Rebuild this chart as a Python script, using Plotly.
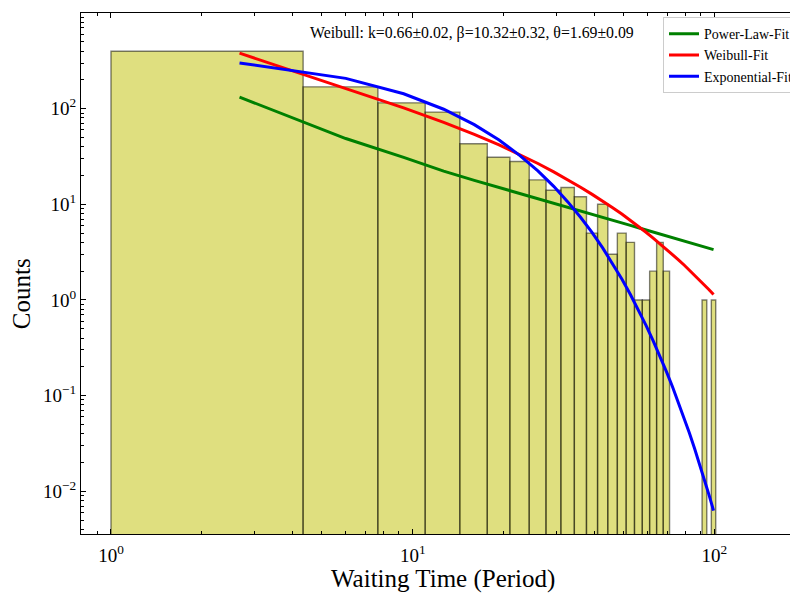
import plotly.graph_objects as go

# ---------------- data ----------------
bin_edges = [1.0, 4.333, 7.667, 11.0, 14.333, 17.667, 21.0, 24.333, 27.667, 31.0,
             34.333, 37.667, 41.0, 44.333, 47.667, 51.0, 54.333, 57.667, 61.0, 64.333,
             67.667, 71.0, 74.333, 77.667, 81.0, 84.333, 87.667, 91.0, 94.333, 97.667, 101.0]
counts = [398, 169, 115, 92, 43, 31, 28, 18, 14, 15,
          12, 5, 10, 3, 5, 4, 1, 1, 2, 4,
          2, 0, 0, 0, 0, 0, 0, 1, 0, 1]

bin_centers = [2.667, 6.0, 9.333, 12.667, 16.0, 19.333, 22.667, 26.0, 29.333, 32.667,
               36.0, 39.333, 42.667, 46.0, 49.333, 52.667, 56.0, 59.333, 62.667, 66.0,
               69.333, 72.667, 76.0, 79.333, 82.667, 86.0, 89.333, 92.667, 96.0, 99.333]

power_law_fit = [132.0, 48.7, 30.9, 22.2, 17.8, 15.0, 13.0, 11.6, 10.4, 9.44,
                 8.63, 7.94, 7.35, 6.84, 6.41, 6.02, 5.68, 5.39, 5.12, 4.89,
                 4.67, 4.47, 4.29, 4.13, 3.97, 3.83, 3.70, 3.58, 3.46, 3.36]
weibull_fit = [380.0, 160.0, 101.7, 72.0, 53.9, 41.8, 33.1, 26.7, 21.8, 18.1,
               15.1, 12.7, 10.8, 9.20, 7.90, 6.80, 5.88, 5.10, 4.44, 3.88,
               3.40, 2.99, 2.63, 2.32, 2.05, 1.82, 1.61, 1.44, 1.28, 1.14]
exponential_fit = [300.6, 207.3, 143.0, 98.6, 68.0, 46.9, 32.3, 22.3, 15.4, 10.6,
                   7.32, 5.05, 3.48, 2.40, 1.655, 1.14, 0.787, 0.543, 0.374, 0.258,
                   0.178, 0.123, 0.0847, 0.0584, 0.0403, 0.0278, 0.0192, 0.0132, 0.00911, 0.00628]

x_tick_vals = [1, 10, 100]
x_tick_text = ["10<sup>0</sup>", "10<sup>1</sup>", "10<sup>2</sup>"]
y_tick_vals = [0.01, 0.1, 1, 10, 100, 1000]
y_tick_text = ["10<sup>\u22122</sup>", "10<sup>\u22121</sup>", "10<sup>0</sup>",
               "10<sup>1</sup>", "10<sup>2</sup>", "10<sup>3</sup>"]

x_title = "Waiting Time (Period)"
y_title = "Counts"
annotation_text = "Weibull: k=0.66\u00b10.02, \u03b2=10.32\u00b10.32, \u03b8=1.69\u00b10.09"

# ---------------- figure ----------------
FONT = "Liberation Serif, Times New Roman, serif"
fig = go.Figure()

bar_floor = 1e-4
for i, c in enumerate(counts):
    if c <= 0:
        continue
    x0, x1 = bin_edges[i], bin_edges[i + 1]
    fig.add_trace(go.Scatter(
        x=[x0, x0, x1, x1, x0], y=[bar_floor, c, c, bar_floor, bar_floor],
        mode="lines", fill="toself",
        fillcolor="rgba(191,191,0,0.5)",
        line=dict(color="rgba(0,0,0,0.5)", width=1.4),
        showlegend=False, hoverinfo="skip"))

fig.add_trace(go.Scatter(x=bin_centers, y=power_law_fit, mode="lines",
                         name="Power-Law-Fit", line=dict(color="#008000", width=3)))
fig.add_trace(go.Scatter(x=bin_centers, y=weibull_fit, mode="lines",
                         name="Weibull-Fit", line=dict(color="#ff0000", width=3)))
fig.add_trace(go.Scatter(x=bin_centers, y=exponential_fit, mode="lines",
                         name="Exponential-Fit", line=dict(color="#0000ff", width=3)))

mant = [2, 3, 4, 5, 6, 7, 8, 9]
x_minor = [0.9] + [m * d for d in (1, 10) for m in mant]
y_minor = [m * d for d in (0.001, 0.01, 0.1, 1, 10, 100) for m in mant]

fig.add_annotation(text=annotation_text, x=0.5455, y=0.962, xref="paper", yref="paper",
                   xanchor="center", yanchor="middle", showarrow=False,
                   font=dict(family=FONT, size=15.8, color="black"))
fig.add_annotation(text=x_title, x=0.505, y=-0.087, xref="paper", yref="paper",
                   xanchor="center", yanchor="middle", showarrow=False,
                   font=dict(family=FONT, size=25, color="black"))
fig.add_annotation(text=y_title, x=-0.0832, y=0.461, xref="paper", yref="paper",
                   xanchor="center", yanchor="middle", showarrow=False, textangle=-90,
                   font=dict(family=FONT, size=25, color="black"))

# page body has an 8px margin, so the figure is 8px smaller and offsets reduced by 8
fig.update_layout(
    width=790, height=591,
    margin=dict(l=72.7, r=0, t=4.7, b=64.5, autoexpand=False),
    plot_bgcolor="white", paper_bgcolor="white",
    font=dict(family=FONT, color="black"),
    showlegend=True,
    legend=dict(x=1.0, y=0.992, xanchor="right", yanchor="top",
                bgcolor="rgba(255,255,255,0.8)", bordercolor="#cccccc", borderwidth=1,
                font=dict(family=FONT, size=14, color="black"),
                tracegroupgap=0),
    xaxis=dict(type="log", range=[-0.0994, 2.277], showgrid=False, zeroline=False,
               showline=True, linecolor="black", linewidth=1.3, mirror="allticks",
               ticks="inside", ticklen=5, tickwidth=1, tickcolor="black",
               tickvals=x_tick_vals, ticktext=x_tick_text, ticklabelstandoff=4,
               tickfont=dict(family=FONT, size=19, color="black"),
               minor=dict(ticks="inside", ticklen=3, tickwidth=1, tickcolor="black",
                          tickvals=x_minor, showgrid=False)),
    yaxis=dict(type="log", range=[-2.447, 3], showgrid=False, zeroline=False,
               showline=True, linecolor="black", linewidth=1.3, mirror=False,
               ticks="inside", ticklen=5, tickwidth=1, tickcolor="black",
               tickvals=y_tick_vals, ticktext=y_tick_text,
               tickfont=dict(family=FONT, size=19, color="black"),
               minor=dict(ticks="inside", ticklen=3, tickwidth=1, tickcolor="black",
                          tickvals=y_minor, showgrid=False)),
)

fig.write_html("out.html")
